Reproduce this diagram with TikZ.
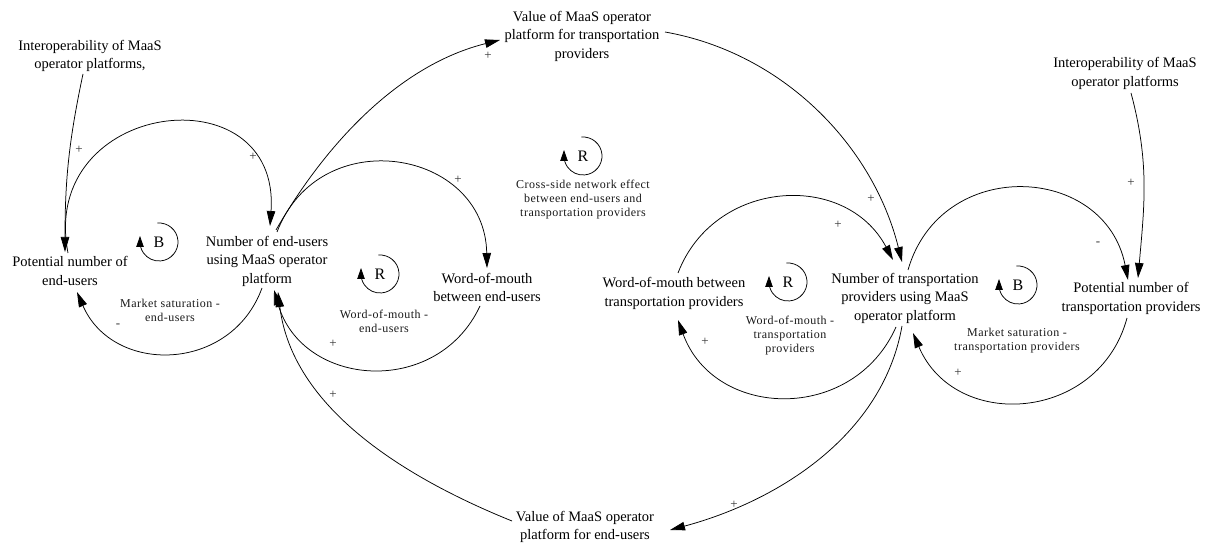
\documentclass[tikz,border=0pt]{standalone}
\usepackage{fontspec}
\setmainfont{Liberation Serif}
\newfontfamily\loopnamefont[LetterSpace=4]{Liberation Serif}
\usetikzlibrary{arrows.meta}

% loop marker: letter in the middle, open circular arrow around it
\newcommand\loopsym[4]{%
  \node[loopletter] (#1) at (#2,#3) {#4};
  \draw[loopline] ([shift={(95:19)}]#1.center) arc[start angle=95, end angle=-180, radius=19] -- ++(0,6);
}

\begin{document}
\begin{tikzpicture}[x=1pt,y=1pt,
  var/.style={align=center, inner sep=0pt, font=\fontsize{14.5}{18.5}\selectfont},
  loopname/.style={align=center, inner sep=0pt, font=\loopnamefont\fontsize{12}{14}\selectfont, text=black!90},
  polarity/.style={inner sep=0pt, font=\fontsize{13}{13}\selectfont, text=black!80},
  link/.style={line width=0.75pt, -{Triangle[length=15pt,width=8.5pt]}},
  loopletter/.style={inner sep=0pt, font=\fontsize{16}{18}\selectfont},
  loopline/.style={line width=0.75pt, -{Triangle[length=11pt,width=7.5pt]}},
]
\useasboundingbox (0,0) rectangle (1213,544);

% variables
\node[var] (ifl) at (90,488)   {Interoperability of MaaS\\operator platforms,};
\node[var] (pe)  at (70,273)   {Potential number of\\end-users};
\node[var] (ne)  at (267,283)  {Number of end-users\\using MaaS operator\\platform};
\node[var] (we)  at (487,256.5){Word-of-mouth\\between end-users};
\node[var] (vt)  at (582,508)  {Value of MaaS operator\\platform for transportation\\providers};
\node[var] (ve)  at (585,17)   {Value of MaaS operator\\platform for end-users};
\node[var] (wt)  at (674,250.5){Word-of-mouth between\\transportation providers};
\node[var] (nt)  at (905,246)  {Number of transportation\\providers using MaaS\\operator platform};
\node[var] (pt)  at (1131,245.5){Potential number of\\transportation providers};
\node[var] (ifr) at (1125,470.5){Interoperability of MaaS\\operator platforms};

% loop markers
\loopsym{lb1}{159}{302}{B}
\loopsym{lr1}{380}{270}{R}
\loopsym{lr2}{583}{388}{R}
\loopsym{lr3}{788}{262}{R}
\loopsym{lb2}{1018}{259}{B}

% loop names
\node[loopname] (n1) at (170,233.5) {Market saturation -\\end-users};
\node[loopname] (n2) at (384,223)   {Word-of-mouth -\\end-users};
\node[loopname] (n3) at (583,344)   {Cross-side network effect\\between end-users and\\transportation providers};
\node[loopname] (n4) at (790,208)   {Word-of-mouth -\\transportation\\providers};
\node[loopname] (n5) at (1017,203)  {Market saturation -\\transportation providers};

% causal links
\draw[link] ([shift={(-7,-18)}]ifl.center) to[out=-102,in=90,looseness=1] ([shift={(-5,19)}]pe.center);
\draw[link] ([shift={(-2,18)}]pe.center) to[out=101,in=86,looseness=1.96] ([shift={(3,35)}]ne.center);
\draw[link] ([shift={(-5,-27)}]ne.center) to[out=-110,in=-66.6,looseness=1.25] ([shift={(7,-21)}]pe.center);
\draw[link] ([shift={(9,31)}]ne.center) to[out=60,in=194,looseness=0.89] ([shift={(-82,-4)}]vt.center);
\draw[link] ([shift={(10,29)}]ne.center) to[out=69,in=91,looseness=1.43] ([shift={(0,19.5)}]we.center);
\draw[link] ([shift={(-7,-18.5)}]we.center) to[out=-115,in=-74,looseness=1.26] ([shift={(7,-29)}]ne.center);
\draw[link] ([shift={(-73,6)}]ve.center) to[out=158,in=-83,looseness=0.91] ([shift={(11,-31)}]ne.center);
\draw[link] ([shift={(-3,-28)}]nt.center) to[out=-100,in=15,looseness=0.92] ([shift={(85,-3)}]ve.center);
\draw[link] ([shift={(83,4)}]vt.center) to[out=-10,in=104,looseness=0.93] ([shift={(-3,36)}]nt.center);
\draw[link] ([shift={(4,20.5)}]wt.center) to[out=69,in=118,looseness=1.2] ([shift={(-12,38)}]nt.center);
\draw[link] ([shift={(-9,-29)}]nt.center) to[out=-114,in=-70,looseness=1.24] ([shift={(4,-26.5)}]wt.center);
\draw[link] ([shift={(3,28)}]nt.center) to[out=74,in=101,looseness=1.38] ([shift={(-3,18.5)}]pt.center);
\draw[link] ([shift={(-4,-19.5)}]pt.center) to[out=-105,in=-67,looseness=1.285] ([shift={(8,-35)}]nt.center);
\draw[link] ([shift={(6,-19.5)}]ifr.center) to[out=-75,in=85,looseness=1] ([shift={(7,20.5)}]pt.center);

% link polarities
\node[polarity] (s1)  at (79,394)   {+};
\node[polarity] (s2)  at (253,387)  {+};
\node[polarity] (s3)  at (118,218)  {-};
\node[polarity] (s4)  at (488,488)  {+};
\node[polarity] (s5)  at (458,364)  {+};
\node[polarity] (s6)  at (333,200)  {+};
\node[polarity] (s7)  at (333,149)  {+};
\node[polarity] (s8)  at (734,39)   {+};
\node[polarity] (s9)  at (871,345)  {+};
\node[polarity] (s10) at (838,319)  {+};
\node[polarity] (s11) at (705,202)  {+};
\node[polarity] (s12) at (1098,300) {-};
\node[polarity] (s13) at (958,171)  {+};
\node[polarity] (s14) at (1131,361) {+};
\end{tikzpicture}
\end{document}
